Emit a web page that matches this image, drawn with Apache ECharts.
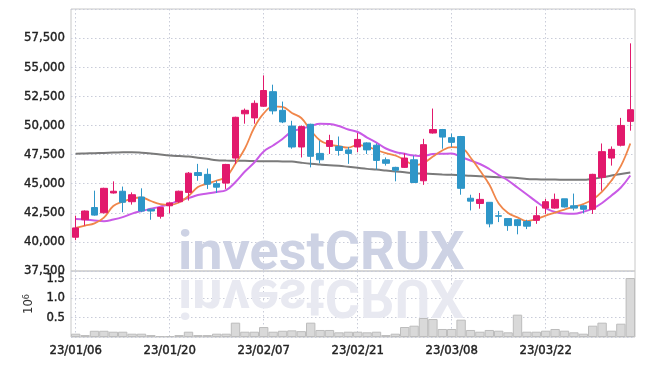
<!DOCTYPE html>
<html>
<head>
<meta charset="utf-8">
<script src="https://cdn.jsdelivr.net/npm/echarts@6/dist/echarts.min.js"></script>
<style>
  html, body { margin: 0; padding: 0; background: #fff; }
  #chart { width: 645px; height: 366px; }
</style>
</head>
<body>
<div id="chart"></div>
<script>
// trading days, 2023
const dates = [
  '23/01/06', '23/01/09', '23/01/10', '23/01/11', '23/01/12', '23/01/13', '23/01/16', '23/01/17', '23/01/18', '23/01/19',
  '23/01/20', '23/01/25', '23/01/26', '23/01/27', '23/01/30', '23/01/31', '23/02/01', '23/02/02', '23/02/03', '23/02/06',
  '23/02/07', '23/02/08', '23/02/09', '23/02/10', '23/02/13', '23/02/14', '23/02/15', '23/02/16', '23/02/17', '23/02/20',
  '23/02/21', '23/02/22', '23/02/23', '23/02/24', '23/02/27', '23/02/28', '23/03/02', '23/03/03', '23/03/06', '23/03/07',
  '23/03/08', '23/03/09', '23/03/10', '23/03/13', '23/03/14', '23/03/15', '23/03/16', '23/03/17', '23/03/20', '23/03/21',
  '23/03/22', '23/03/23', '23/03/24', '23/03/27', '23/03/28', '23/03/29', '23/03/30', '23/03/31', '23/04/03', '23/04/04'
];

const opens = [
  40400, 41900, 42950, 42500, 44200, 44350, 43450, 43850, 42800, 42200,
  43100, 43450, 44250, 45950, 45800, 45000, 45050, 47200, 51000, 50650,
  51650, 52900, 51300, 49950, 48150, 50100, 47600, 48200, 48200, 47900,
  48150, 48500, 48300, 47050, 46400, 46400, 47050, 45250, 49350, 49650,
  48950, 49050, 43750, 43300, 43400, 42250, 42000, 41900, 41750, 41850,
  42900, 42900, 43700, 43100, 43100, 42800, 45550, 47200, 48300, 50350
];
const closes = [
  41200, 42650, 42300, 44600, 44350, 43400, 44050, 42650, 42650, 42950,
  43350, 44350, 45900, 45700, 44950, 44700, 46650, 50700, 51300, 51900,
  53000, 51250, 50300, 48150, 49900, 47350, 47050, 48700, 47850, 47600,
  48800, 47900, 47000, 46750, 46150, 47200, 45100, 48350, 49650, 49000,
  48550, 44600, 43500, 43650, 41550, 42200, 41400, 41400, 41350, 42250,
  43450, 43650, 43000, 42900, 42800, 45800, 47750, 47950, 50000, 51350
];
const highs = [
  42250, 42700, 44400, 44650, 45200, 44750, 44250, 44600, 42850, 42950,
  43400, 44400, 46000, 46700, 46300, 45250, 46700, 50750, 51450, 52150,
  54300, 53500, 52050, 50400, 50000, 50150, 48700, 49200, 49050, 48150,
  49350, 48550, 48450, 47250, 46450, 47600, 47400, 48850, 51450, 49700,
  49300, 49100, 44050, 44200, 43400, 42650, 42000, 41950, 41900, 43050,
  43700, 44150, 43700, 44150, 43150, 45850, 48450, 48200, 50650, 57050
];
const lows = [
  40150, 41400, 42250, 42450, 44150, 42550, 43200, 42550, 41900, 42000,
  42450, 43350, 43550, 45250, 44550, 44200, 44550, 46700, 50150, 50150,
  51600, 50950, 50200, 48000, 47250, 46400, 46750, 47550, 47400, 46700,
  47700, 47550, 46200, 46550, 45200, 46350, 45050, 44900, 49300, 48000,
  48150, 44050, 42700, 42850, 41250, 41700, 40950, 40650, 41100, 41550,
  42400, 42850, 42950, 42700, 42450, 42400, 44400, 46550, 48200, 49550
];

// moving averages as drawn
const ma5 = [
  41200, 41400, 41590, 42090, 43080, 43460, 43720, 43810, 43510, 43250,
  43180, 43380, 43940, 44710, 45010, 45270, 45570, 46730, 48020, 49820,
  51030, 51630, 51590, 51070, 50640, 49570, 48710, 48360, 48230, 48100,
  48320, 48190, 47890, 47630, 47420, 47030, 46600, 46770, 47330, 47850,
  48130, 48080, 47250, 46130, 44930, 43290, 42480, 42110, 41790, 41960,
  42260, 42520, 42780, 43010, 43250, 43640, 44320, 45270, 46520, 48450
];
const ma20 = [
  41960, 41920, 41830, 41770, 41920, 42130, 42430, 42650, 42840, 43030,
  43250, 43550, 43760, 44020, 44150, 44280, 44450, 45140, 46040, 46820,
  47760, 48280, 48840, 49480, 49700, 49950, 50140, 50120, 49950, 49650,
  49440, 48960, 48530, 48020, 47720, 47560, 47420, 47370, 47550, 47570,
  47590, 47290, 46990, 46690, 46260, 45740, 45270, 44670, 44070, 43460,
  42910, 42560, 42430, 42410, 42580, 42860, 43340, 43980, 44670, 45700
];
const ma120 = [
  47560, 47590, 47620, 47640, 47670, 47690, 47700, 47660, 47590, 47500,
  47420, 47370, 47330, 47230, 47130, 47020, 46990, 46970, 46960, 46940,
  46930, 46920, 46910, 46900, 46800, 46710, 46640, 46580, 46540, 46450,
  46360, 46270, 46210, 46130, 46050, 45980, 45900, 45870, 45830, 45790,
  45760, 45720, 45670, 45640, 45600, 45560, 45530, 45490, 45410, 45380,
  45360, 45350, 45340, 45330, 45330, 45420, 45540, 45700, 45830, 45960
];

// volume, x10^6
const volumes = [
  0.085, 0.05, 0.16, 0.16, 0.136, 0.136, 0.085, 0.085, 0.05, 0.025,
  0.025, 0.05, 0.136, 0.05, 0.05, 0.085, 0.085, 0.367, 0.136, 0.136,
  0.255, 0.136, 0.16, 0.17, 0.15, 0.367, 0.18, 0.18, 0.12, 0.136,
  0.136, 0.12, 0.136, 0.05, 0.085, 0.256, 0.29, 0.487, 0.46, 0.205,
  0.205, 0.444, 0.18, 0.136, 0.18, 0.162, 0.12, 0.572, 0.136, 0.136,
  0.162, 0.205, 0.162, 0.12, 0.085, 0.29, 0.367, 0.162, 0.341, 1.51
];

const chart = echarts.init(document.getElementById('chart'));

const FONT = '"Liberation Sans Narrow", "DejaVu Sans Condensed", Roboto, sans-serif';
const UP = '#e2196c';
const DOWN = '#2e96c8';
const dotted = { show: true, lineStyle: { color: '#c9ccd9', width: 1, type: [1.5, 2.5] } };
// thin outline in the text colour makes the labels a little heavier
const labelStyle = { fontFamily: FONT, fontSize: 13, color: '#222', textBorderColor: '#222', textBorderWidth: 0.4 };

const candles = opens.map((o, i) => [o, closes[i], lows[i], highs[i]]);

const maLine = (name, data, color, width) => ({
  name, type: 'line', data,
  xAxisIndex: 0, yAxisIndex: 0,
  smooth: 0.4, showSymbol: false, silent: true, z: 2,
  lineStyle: { color, width }
});

const mark = 'investCRUX';

chart.setOption({
  animation: false,
  grid: [
    { left: 71, right: 10, top: 9, height: 262, show: true, borderColor: '#c8c8c8', borderWidth: 1 },
    { left: 71, right: 10, top: 271, height: 66, show: true, borderColor: '#c8c8c8', borderWidth: 1 }
  ],
  xAxis: [
    {
      type: 'category', gridIndex: 0, data: dates,
      axisLine: { show: false }, axisTick: { show: false }, axisLabel: { show: false },
      splitLine: Object.assign({ interval: 9, alignWithLabel: true }, dotted)
    },
    {
      type: 'category', gridIndex: 1, data: dates,
      axisLine: { show: false }, axisTick: { show: false },
      axisLabel: Object.assign({ interval: 9, margin: 7 }, labelStyle),
      splitLine: Object.assign({ interval: 9, alignWithLabel: true }, dotted)
    }
  ],
  yAxis: [
    {
      type: 'value', gridIndex: 0, min: 37500, max: 60000, interval: 2500,
      axisLine: { show: false }, axisTick: { show: false },
      axisLabel: Object.assign({
        margin: 6, showMaxLabel: false,
        formatter: v => v.toLocaleString('en-US')
      }, labelStyle),
      splitLine: dotted
    },
    {
      type: 'value', gridIndex: 1, min: 0, max: 1.69, interval: 0.5,
      axisLine: { show: false }, axisTick: { show: false },
      axisLabel: Object.assign({
        margin: 6, showMinLabel: false, showMaxLabel: false,
        formatter: v => v.toFixed(1)
      }, labelStyle),
      splitLine: dotted,
      name: '{b|10}{s|6}', nameLocation: 'middle', nameRotate: 90, nameGap: 28,
      nameTextStyle: {
        rich: {
          b: { fontFamily: FONT, fontSize: 13, color: '#333' },
          s: { fontFamily: FONT, fontSize: 9, color: '#333', verticalAlign: 'top' }
        }
      }
    }
  ],
  graphic: [
    {
      type: 'text', x: 178, y: 282, z: 1, silent: true,
      style: { text: mark, font: 'bold 54px Roboto', fill: '#cdd2e4',
        textVerticalAlign: 'bottom', verticalAlign: 'bottom' }
    },
    {
      type: 'text', x: 178, y: 266, scaleY: -1, z: 1, silent: true,
      style: { text: mark, font: 'bold 54px Roboto', fill: '#e8e9f1',
        textVerticalAlign: 'bottom', verticalAlign: 'bottom' }
    }
  ],
  series: [
    maLine('MA120', ma120, '#7a7a7a', 2),
    maLine('MA20', ma20, '#c95ae6', 2),
    maLine('MA5', ma5, '#f0864a', 1.8),
    {
      name: 'price', type: 'candlestick', data: candles,
      xAxisIndex: 0, yAxisIndex: 0, barWidth: 7, z: 3, silent: true,
      itemStyle: { color: UP, color0: DOWN, borderColor: UP, borderColor0: DOWN, borderWidth: 1 }
    },
    {
      name: 'volume', type: 'bar', data: volumes,
      xAxisIndex: 1, yAxisIndex: 1, barCategoryGap: '0%', silent: true,
      itemStyle: { color: '#d9d9d9', borderColor: '#bdbdbd', borderWidth: 1 }
    }
  ]
});
</script>
</body>
</html>
